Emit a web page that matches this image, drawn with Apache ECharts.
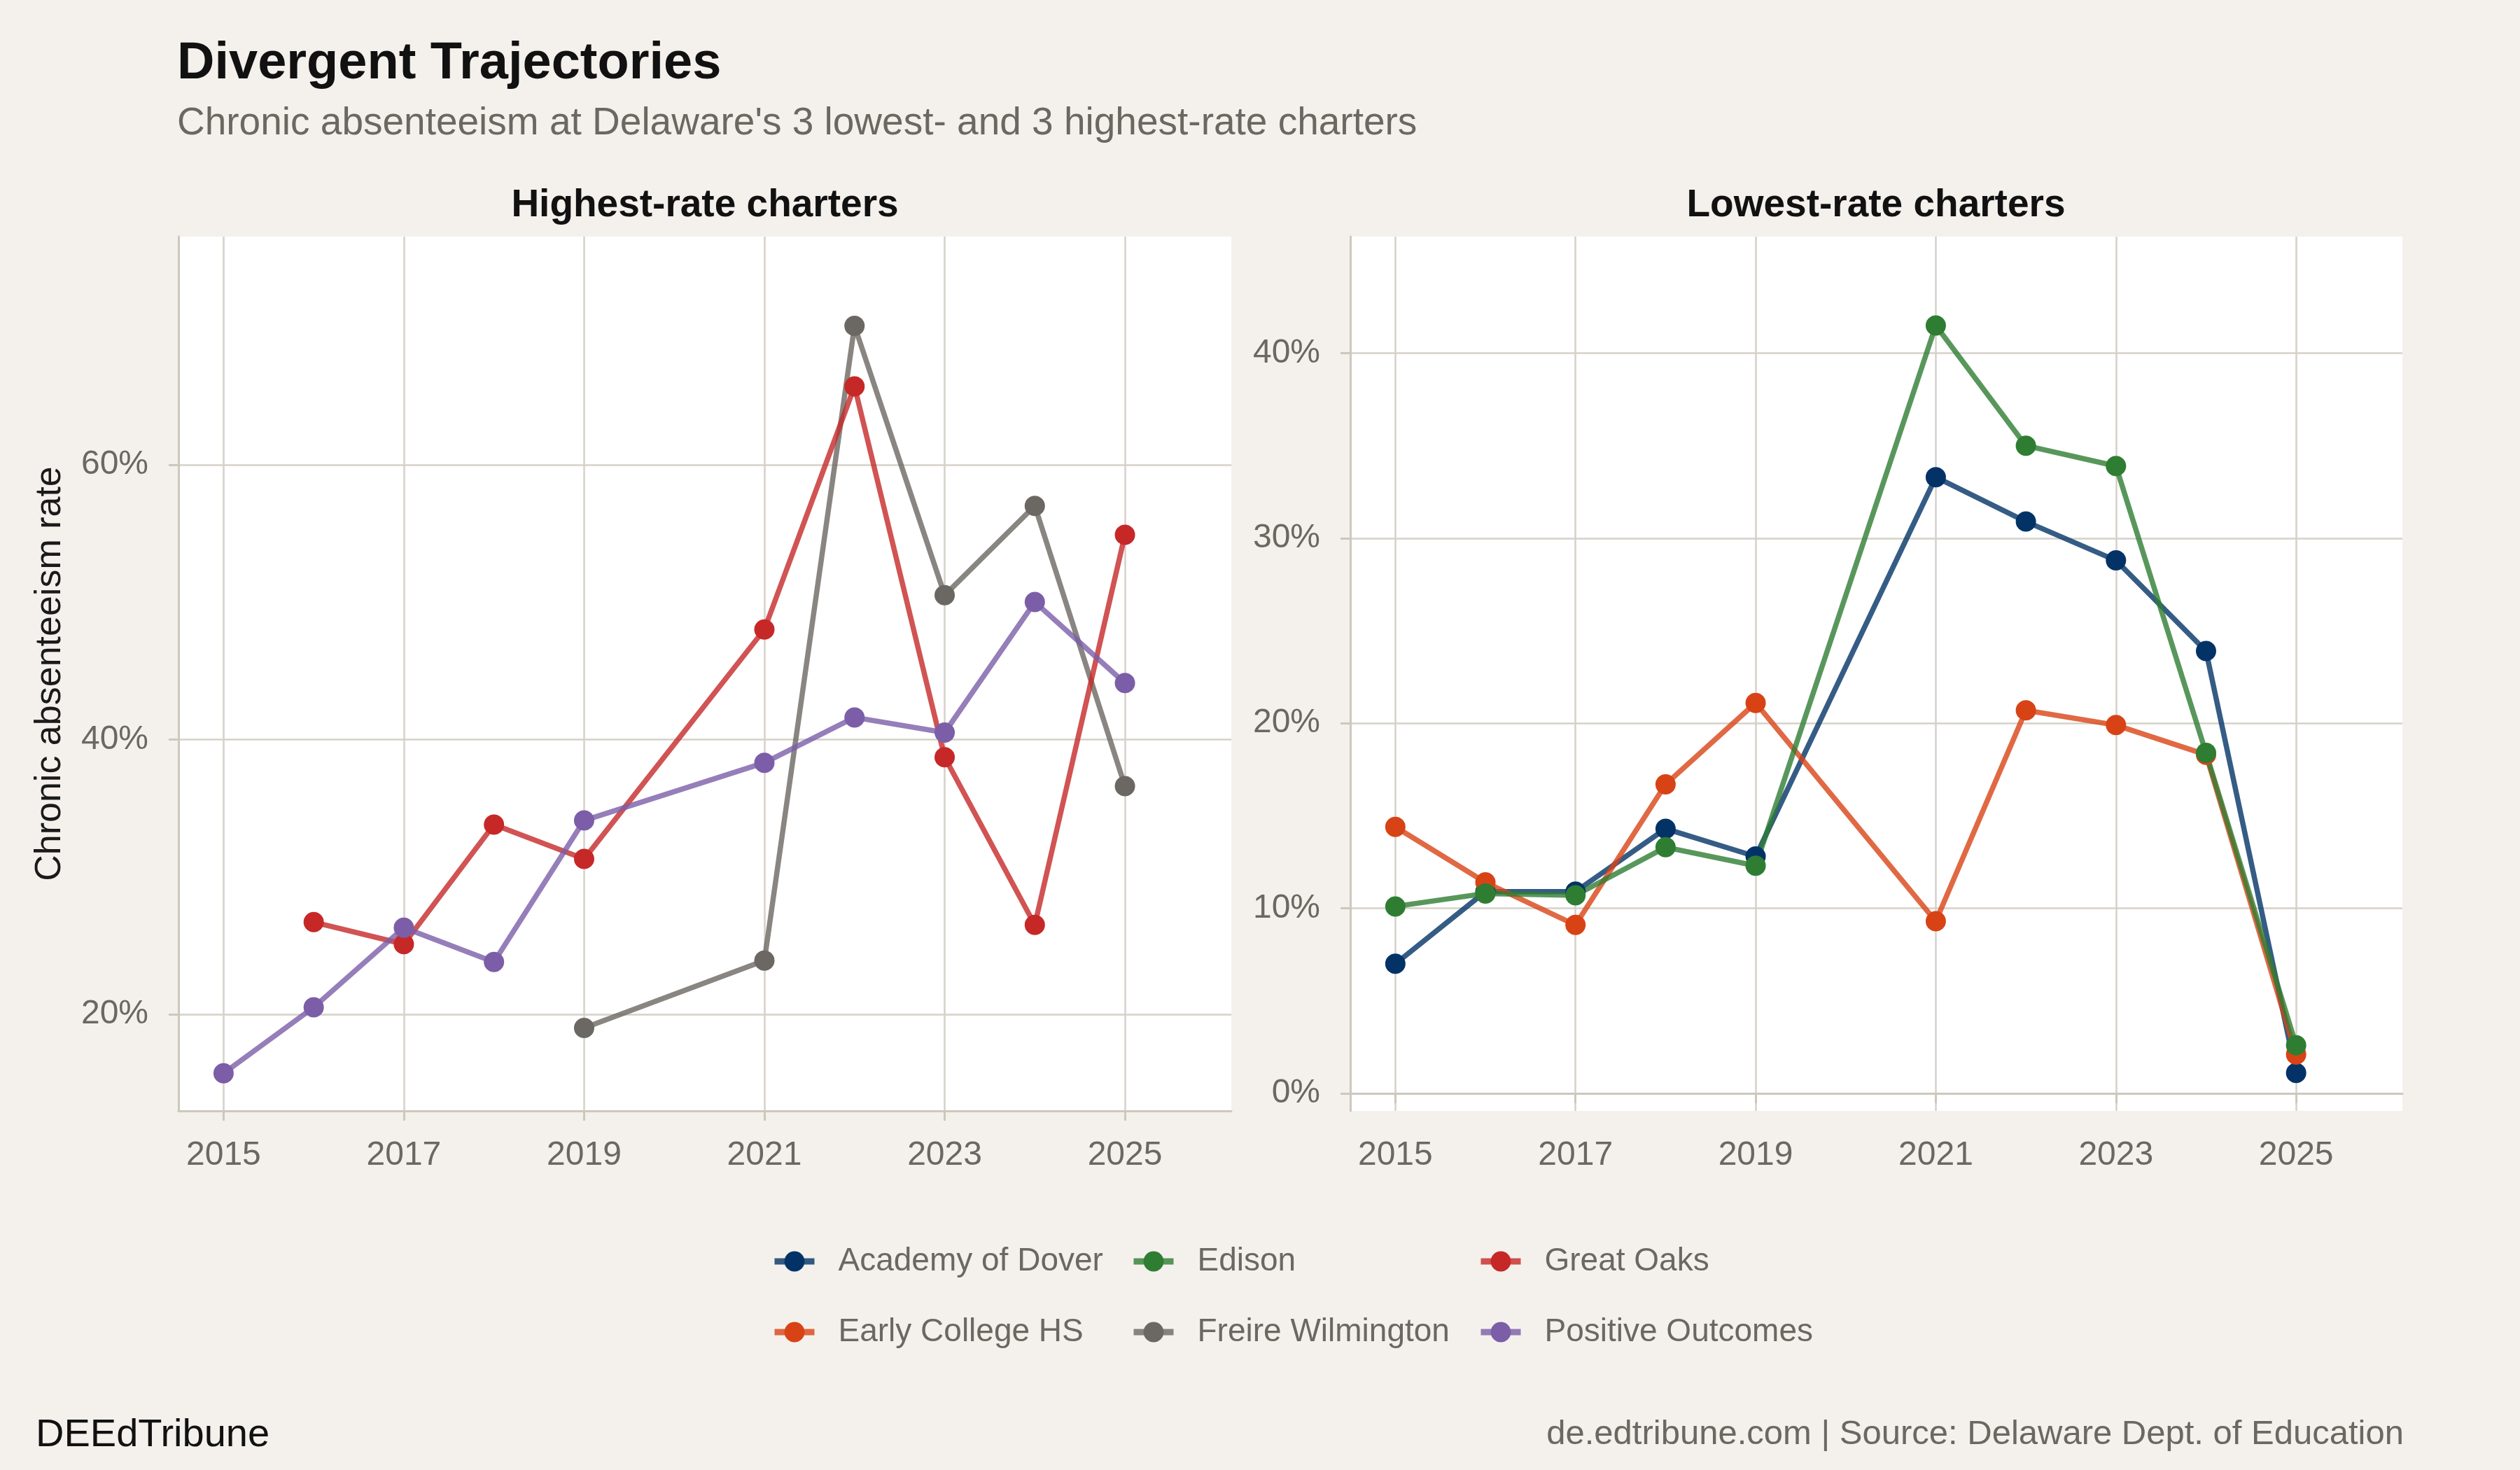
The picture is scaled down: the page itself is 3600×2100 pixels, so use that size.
<!DOCTYPE html>
<html>
<head>
<meta charset="utf-8">
<script src="https://cdn.jsdelivr.net/npm/echarts@6/dist/echarts.min.js"></script>
<style>
  html, body { margin: 0; padding: 0; background: #f4f1ec; }
  #chart { width: 3600px; height: 2100px; }
</style>
</head>
<body>
<div id="chart"></div>
<script>
// years on record (no 2020 data)
var years = [2015, 2016, 2017, 2018, 2019, 2021, 2022, 2023, 2024, 2025];

// highest-rate charters (%)
var freireWilmington = [null, null, null, null, 19.0, 23.9, 70.1, 50.5, 57.0, 36.6];
var greatOaks        = [null, 26.7, 25.1, 33.8, 31.3, 48.0, 65.7, 38.7, 26.5, 54.9];
var positiveOutcomes = [15.7, 20.5, 26.3, 23.8, 34.1, 38.3, 41.6, 40.5, 50.0, 44.1];

// lowest-rate charters (%)
var academyOfDover = [7.0, 10.9, 10.9, 14.3, 12.8, 33.3, 30.9, 28.8, 23.9, 1.1];
var earlyCollegeHS = [14.4, 11.4, 9.1, 16.7, 21.1, 9.3, 20.7, 19.9, 18.3, 2.1];
var edison         = [10.1, 10.8, 10.7, 13.3, 12.3, 41.5, 35.0, 33.9, 18.4, 2.6];

var xTicks = [2015, 2017, 2019, 2021, 2023, 2025];
var yTicksHigh = [20, 40, 60];
var yTicksLow = [0, 10, 20, 30, 40];

var legendOrder = ['Academy of Dover', 'Edison', 'Great Oaks',
                   'Early College HS', 'Freire Wilmington', 'Positive Outcomes'];

var GRID_LINE = '#d6d1c8';
var AXIS_LINE = '#cdc7bd';
var GRAY_TEXT = '#6b6862';
var FONT = '"Liberation Sans", Arial, Helvetica, sans-serif';

var schools = [
    // panel 0 = highest, panel 1 = lowest ; drawn in this order
    {name: 'Freire Wilmington', values: freireWilmington, panel: 0, color: '#6b6762', line: 'rgba(107,103,98,0.8)'},
    {name: 'Great Oaks', values: greatOaks, panel: 0, color: '#c62828', line: 'rgba(198,40,40,0.8)'},
    {name: 'Positive Outcomes', values: positiveOutcomes, panel: 0, color: '#7b5ea7', line: 'rgba(123,94,167,0.8)'},
    {name: 'Academy of Dover', values: academyOfDover, panel: 1, color: '#033366', line: 'rgba(3,51,102,0.8)'},
    {name: 'Early College HS', values: earlyCollegeHS, panel: 1, color: '#d84315', line: 'rgba(216,67,21,0.8)'},
    {name: 'Edison', values: edison, panel: 1, color: '#2e7d32', line: 'rgba(46,125,50,0.8)'}
];

function pairs(vals) {
    var out = [];
    for (var i = 0; i < years.length; i++) {
        if (vals[i] != null) out.push([years[i], vals[i]]);
    }
    return out;
}

var series = [];
// lines first, points on top
schools.forEach(function (s) {
    series.push({
        name: s.name, type: 'line', xAxisIndex: s.panel, yAxisIndex: s.panel,
        data: pairs(s.values), symbol: 'circle', showSymbol: false,
        lineStyle: {width: 7.5, color: s.line}, itemStyle: {color: s.color},
        z: 2, silent: true
    });
});
schools.forEach(function (s) {
    series.push({
        name: s.name, type: 'scatter', xAxisIndex: s.panel, yAxisIndex: s.panel,
        data: pairs(s.values), symbol: 'circle', symbolSize: 29,
        itemStyle: {color: s.color, opacity: 1}, z: 3, silent: true
    });
});

function xAxis(idx) {
    return {
        type: 'value', gridIndex: idx, min: 2014.5, max: 2026.18,
        axisLine: {show: true, lineStyle: {color: AXIS_LINE, width: 3}},
        axisTick: {show: true, length: 14, customValues: xTicks, lineStyle: {color: AXIS_LINE, width: 3}},
        axisLabel: {customValues: xTicks, formatter: function (v) { return String(v); },
                    fontSize: 48, color: GRAY_TEXT, fontFamily: FONT, margin: 40},
        splitLine: {show: true, lineStyle: {color: GRID_LINE, width: 2.5}}
    };
}

function yAxis(idx, min, max, ticks) {
    var ax = {
        type: 'value', gridIndex: idx, min: min, max: max,
        axisLine: {show: true, lineStyle: {color: AXIS_LINE, width: 3}},
        axisTick: {show: true, length: 14, customValues: ticks, lineStyle: {color: AXIS_LINE, width: 3}},
        axisLabel: {customValues: ticks, formatter: function (v) { return v + '%'; },
                    fontSize: 48, color: GRAY_TEXT, fontFamily: FONT, margin: 43, padding: [10, 0, 0, 0]},
        splitLine: {show: true, lineStyle: {color: GRID_LINE, width: 2.5}}
    };
    if (idx === 0) {
        ax.name = 'Chronic absenteeism rate';
        ax.nameLocation = 'middle';
        ax.nameGap = 157;
        ax.nameTextStyle = {fontSize: 52, color: '#1a1a1a', fontFamily: FONT};
    }
    return ax;
}

var colX = [1102, 1615, 2111];
var rowY = [1797, 1898];
var legends = legendOrder.map(function (name, i) {
    return {
        data: [name], orient: 'horizontal',
        left: colX[i % 3], top: rowY[Math.floor(i / 3)] - 18,
        padding: 0, itemWidth: 57, itemHeight: 36, selectedMode: false,
        lineStyle: {width: 9},
        textStyle: {fontSize: 46, color: GRAY_TEXT, fontFamily: FONT, lineHeight: 36, padding: [0, 0, 0, 29]}
    };
});

function txt(text, x, y, size, weight, color, align) {
    return {
        type: 'text', x: x, y: y, silent: true,
        style: {text: text, fill: color, font: weight + ' ' + size + 'px ' + FONT,
                textAlign: align, textVerticalAlign: 'middle'}
    };
}

var chart = echarts.init(document.getElementById('chart'));
chart.setOption({
    backgroundColor: '#f4f1ec',
    animation: false,
    grid: [
        {left: 255, top: 338, width: 1504, height: 1249, show: true, backgroundColor: '#ffffff', borderWidth: 0},
        {left: 1929, top: 338, width: 1503, height: 1249, show: true, backgroundColor: '#ffffff', borderWidth: 0}
    ],
    xAxis: [xAxis(0), xAxis(1)],
    yAxis: [yAxis(0, 12.96, 76.6, yTicksHigh), yAxis(1, -0.95, 46.3, yTicksLow)],
    legend: legends,
    series: series,
    graphic: [
        txt('Divergent Trajectories', 253, 92, 74, 'bold', '#111111', 'left'),
        txt("Chronic absenteeism at Delaware's 3 lowest- and 3 highest-rate charters", 253, 177, 55, 'normal', GRAY_TEXT, 'left'),
        txt('Highest-rate charters', 1007, 294, 55, 'bold', '#111111', 'center'),
        txt('Lowest-rate charters', 2680, 294, 55, 'bold', '#111111', 'center'),
        txt('DEEdTribune', 51, 2051, 56, 'normal', '#111111', 'left'),
        txt('de.edtribune.com | Source: Delaware Dept. of Education', 3434, 2049, 49, 'normal', GRAY_TEXT, 'right')
    ]
});
</script>
</body>
</html>
